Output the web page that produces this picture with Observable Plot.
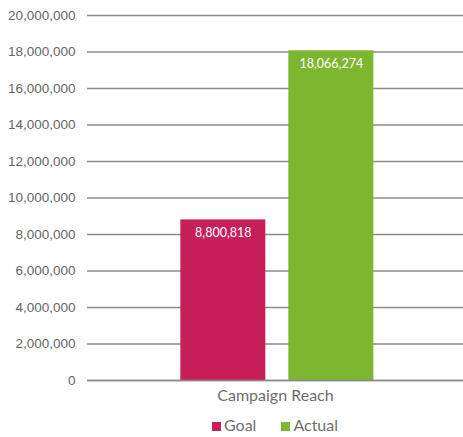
<!DOCTYPE html>
<html><head><meta charset="utf-8">
<script src="https://cdn.jsdelivr.net/npm/d3@7"></script>
<script src="https://cdn.jsdelivr.net/npm/@observablehq/plot@0.6"></script>
<style>
body{margin:0;background:#fff;}
#legend{box-sizing:border-box;width:463px;padding-left:87px;display:flex;justify-content:center;gap:25px;font-family:Lato,sans-serif;font-size:16px;color:#6e6e6e;margin-top:8px;}
#legend span{display:inline-flex;align-items:center;}
#legend i{display:inline-block;width:9px;height:9px;margin-right:3px;margin-top:3px;}
</style></head>
<body><div id="chart"></div><div id="legend"></div>
<script>
const category = "Campaign Reach";
const series = ["Goal", "Actual"];
const values = [8800818, 18066274];
const colors = ["#C71F5A", "#7DB72F"];
const yTicks = [0,2000000,4000000,6000000,8000000,10000000,12000000,14000000,16000000,18000000,20000000];

const data = series.map((s,i)=>({series:s, value:values[i]}));
const fmt = d3.format(",");
const chart = Plot.plot({
  width: 463, height: 407,
  marginLeft: 87, marginRight: 0, marginTop: 15, marginBottom: 27,
  style: {fontFamily: "Lato, sans-serif", fontSize: "13.5px", color: "#666"},
  x: {domain: series, paddingInner: 0.213, paddingOuter: 0.847, align: 0.51, round: false, axis: null},
  y: {domain: [0, 20000000], ticks: yTicks, tickFormat: fmt, label: null},
  color: {domain: series, range: colors},
  marks: [
    Plot.ruleY(yTicks, {stroke: "#8c8c8c", strokeWidth: 1.5}),
    Plot.axisY({ticks: yTicks, tickFormat: fmt, tickSize: 0, tickPadding: 12, label: null, fontFamily: "Liberation Sans, Arial, sans-serif", fontSize: 13.5}),
    Plot.barY(data, {x: "series", y: "value", fill: "series"}),
    Plot.ruleY([0], {stroke: "#8c8c8c", strokeWidth: 1.5}),
    Plot.text(data, {x: "series", y: "value", text: d => fmt(d.value), dy: 13, fill: "white", fontSize: 12.5, fontFamily: "Lato, sans-serif"}),
    Plot.text([category], {frameAnchor: "bottom", text: d => d, dy: 20, fontSize: 16, fill: "#6e6e6e", fontFamily: "Lato, sans-serif"})
  ]
});
document.getElementById("chart").appendChild(chart);
const lg = document.getElementById("legend");
series.forEach((s,i)=>{
  const sp = document.createElement("span");
  sp.innerHTML = `<i style="background:${colors[i]}"></i>${s}`;
  lg.appendChild(sp);
});
</script></body></html>
